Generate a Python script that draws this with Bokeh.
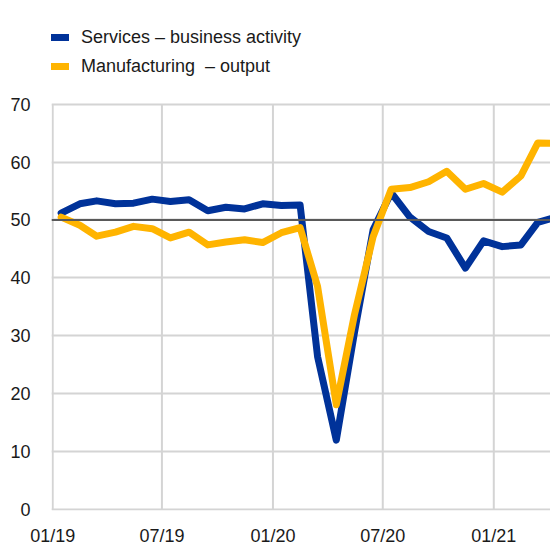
import pandas as pd
from bokeh.plotting import figure
from bokeh.models import Legend, LegendItem, FixedTicker, DatetimeTickFormatter, Span, Range1d, ColumnDataSource
from bokeh.embed import file_html
from bokeh.resources import INLINE

months = ["2019-01", "2019-02", "2019-03", "2019-04", "2019-05", "2019-06",
          "2019-07", "2019-08", "2019-09", "2019-10", "2019-11", "2019-12",
          "2020-01", "2020-02", "2020-03", "2020-04", "2020-05", "2020-06",
          "2020-07", "2020-08", "2020-09", "2020-10", "2020-11", "2020-12",
          "2021-01", "2021-02", "2021-03", "2021-04"]
services = [51.2, 52.8, 53.3, 52.8, 52.9, 53.6, 53.2, 53.5, 51.6, 52.2, 51.9, 52.8,
            52.5, 52.6, 26.4, 12.0, 30.5, 48.3, 54.7, 50.5, 48.0, 46.9, 41.7, 46.4,
            45.4, 45.7, 49.6, 50.5]
manufacturing = [50.5, 49.1, 47.2, 47.9, 48.9, 48.5, 46.9, 47.9, 45.7, 46.2, 46.6, 46.1,
                 47.8, 48.7, 38.5, 18.1, 33.6, 47.1, 55.3, 55.6, 56.6, 58.4, 55.3, 56.3,
                 54.8, 57.6, 63.3, 63.2]
tick_dates = ["2019-01-01", "2019-07-01", "2020-01-01", "2020-07-01", "2021-01-01"]
y_ticks = [0, 10, 20, 30, 40, 50, 60, 70]
y_top = 70
y_view_top = 83.4  # extra room above 70 for the legend

dates = pd.to_datetime(months) + pd.Timedelta(days=14)
src = ColumnDataSource(dict(x=dates, s=services, m=manufacturing))
tick_ts = pd.to_datetime(tick_dates)
grid_src = ColumnDataSource(dict(x=tick_ts, y0=[0] * len(tick_ts), y1=[y_top] * len(tick_ts)))

FONT = "Liberation Sans"
BLUE = "#003299"
YELLOW = "#ffb400"
GRID = "#d4d4d4"

p = figure(width=550, height=548, x_axis_type="datetime", output_backend="svg",
           toolbar_location=None,
           x_range=Range1d(pd.Timestamp("2018-12-30"), pd.Timestamp("2021-04-05")),
           y_range=Range1d(-0.15, y_view_top),
           min_border_left=51, min_border_right=0, min_border_top=26, min_border_bottom=30)
p.outline_line_color = None

# vertical grid lines, only up to 70
p.segment(x0="x", y0="y0", x1="x", y1="y1", source=grid_src, line_color=GRID, line_width=2)

r1 = p.line("x", "s", source=src, line_color=BLUE, line_width=7, line_join="round", line_cap="round")
r2 = p.line("x", "m", source=src, line_color=YELLOW, line_width=7, line_join="round", line_cap="round")

p.add_layout(Span(location=50, dimension="width", line_color="#595959", line_width=2))

tick_ms = [t.value // 10**6 for t in tick_ts]
p.xaxis.ticker = FixedTicker(ticks=tick_ms)
fmt = "%m/%y"
p.xaxis.formatter = DatetimeTickFormatter(days=fmt, months=fmt, years=fmt, hours=fmt,
                                          minutes=fmt, seconds=fmt, milliseconds=fmt,
                                          microseconds=fmt, minsec=fmt, hourmin=fmt)
p.yaxis.ticker = FixedTicker(ticks=y_ticks)

for ax in (p.xaxis[0], p.yaxis[0]):
    ax.axis_line_color = None
    ax.major_tick_line_color = None
    ax.minor_tick_line_color = None
    ax.major_label_text_font = FONT
    ax.major_label_text_font_size = "18px"
    ax.major_label_text_color = "#1a1a1a"
p.yaxis.major_label_standoff = 15
p.xaxis.major_label_standoff = 9

p.xgrid.visible = False
p.ygrid.ticker = FixedTicker(ticks=y_ticks)
p.ygrid.grid_line_color = GRID
p.ygrid.grid_line_width = 2

legend = Legend(items=[LegendItem(label="Services – business activity", renderers=[r1]),
                       LegendItem(label="Manufacturing  – output", renderers=[r2])],
                location="top_left", orientation="vertical",
                label_text_font=FONT, label_text_font_size="18px", label_text_color="#1a1a1a",
                glyph_width=18, glyph_height=22, label_height=22, label_standoff=12,
                spacing=7, padding=0, margin=0, border_line_color=None,
                background_fill_alpha=0)
p.add_layout(legend)

open("out.html", "w").write(file_html(p, INLINE))
